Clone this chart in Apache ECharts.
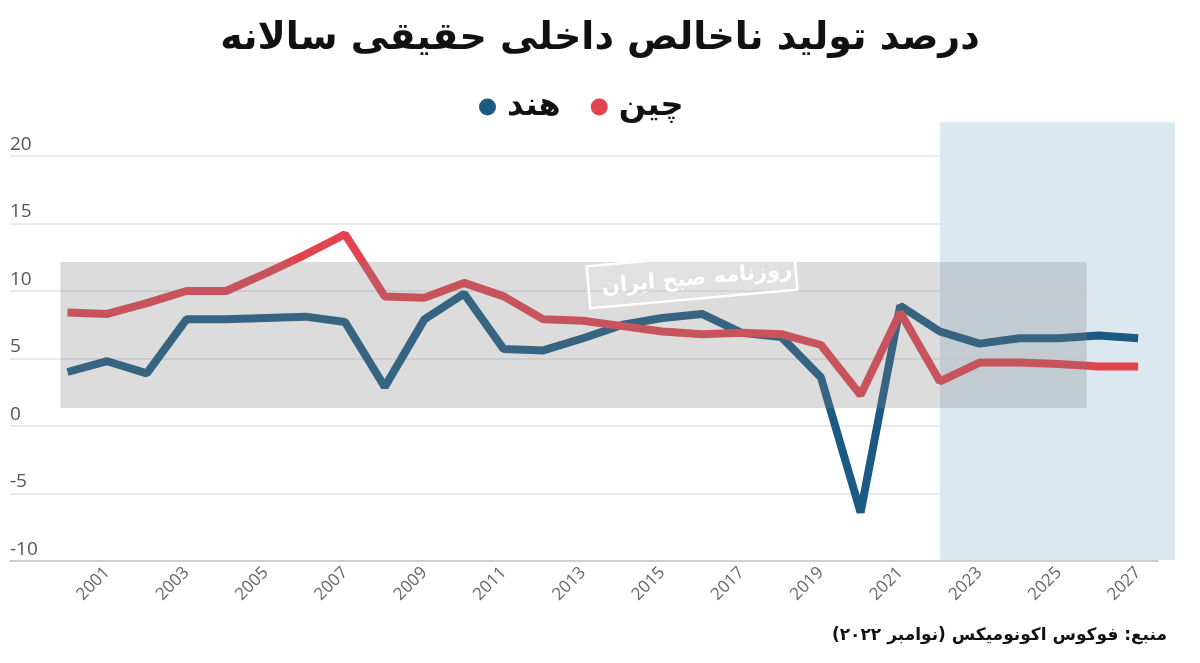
<!DOCTYPE html>
<html>
<head>
<meta charset="utf-8">
<script src="https://cdn.jsdelivr.net/npm/echarts@6/dist/echarts.min.js"></script>
<style>html,body{margin:0;padding:0;background:#fff}#c{width:1200px;height:663px}</style>
</head>
<body>
<div id="c"></div>
<script>
const years = [2000,2001,2002,2003,2004,2005,2006,2007,2008,2009,2010,2011,2012,2013,2014,2015,2016,2017,2018,2019,2020,2021,2022,2023,2024,2025,2026,2027];
const china = [8.4,8.3,9.1,10.0,10.0,11.3,12.7,14.2,9.6,9.5,10.6,9.6,7.9,7.8,7.4,7.0,6.8,6.9,6.8,6.0,2.3,8.4,3.3,4.7,4.7,4.6,4.4,4.4];
const india = [4.0,4.8,3.9,7.9,7.9,8.0,8.1,7.7,2.9,7.9,9.8,5.7,5.6,6.5,7.5,8.0,8.3,6.9,6.6,3.6,-6.4,8.9,7.0,6.1,6.5,6.5,6.7,6.5];
const xTickLabels = [2001,2003,2005,2007,2009,2011,2013,2015,2017,2019,2021,2023,2025,2027];
const forecastStart = 2022;
const titleText = 'درصد تولید ناخالص داخلی حقیقی سالانه';
const seriesNames = ['هند','چین'];
const sourceText = 'منبع: فوکوس اکونومیکس (نوامبر ۲۰۲۲)';
const watermarkText = 'روزنامه صبح ایران';

const FA = "'DejaVu Sans', 'Noto Sans', sans-serif";
const chart = echarts.init(document.getElementById('c'), null, {renderer:'canvas'});
const option = {
  animation: false,
  backgroundColor: '#ffffff',
  title: {
    text: titleText, left: 'center', top: 15,
    textStyle: {fontFamily: FA, fontWeight: 'bold', fontSize: 38, color: '#111'}
  },
  legend: {
    data: seriesNames, left: 474, top: 86, icon: 'circle',
    itemWidth: 17, itemHeight: 17, itemGap: 30,
    textStyle: {fontFamily: FA, fontWeight: 'bold', fontSize: 32, color: '#111', padding: [0,0,0,6]}
  },
  grid: {left: 10, right: 42, top: 156, bottom: 102, containLabel: false},
  xAxis: {
    type: 'value', min: 1998.55, max: 2027.5,
    axisLine: {show: true, onZero: false, lineStyle: {color: '#c9d1d6', width: 2}},
    axisTick: {show: false},
    splitLine: {show: false},
    axisLabel: {
      customValues: xTickLabels, rotate: 45, margin: 9,
      color: '#666', fontSize: 17, fontFamily: "'Open Sans', sans-serif",
      formatter: v => String(v)
    }
  },
  yAxis: {
    type: 'value', min: -10, max: 20, interval: 5,
    axisLine: {show: false}, axisTick: {show: false},
    splitLine: {lineStyle: {color: '#dfe4e8', width: 1.5}},
    axisLabel: {
      inside: true, margin: 0, verticalAlign: 'bottom', padding: [0,0,2,0],
      color: '#555', fontSize: 19, fontFamily: "'Open Sans', sans-serif",
      showMinLabel: true, showMaxLabel: true
    }
  },
  series: [
    {name: seriesNames[0], type: 'line', data: years.map((y,i)=>[y, india[i]]),
     symbol: 'none', lineStyle: {width: 8, color: '#1b5a82'}, itemStyle: {color: '#1b5a82'}, z: 3},
    {name: seriesNames[1], type: 'line', data: years.map((y,i)=>[y, china[i]]),
     symbol: 'none', lineStyle: {width: 8, color: '#e2434f'}, itemStyle: {color: '#e2434f'}, z: 4}
  ]
};
chart.setOption(option);

const fx = chart.convertToPixel({xAxisIndex:0}, forecastStart);
const yTop = chart.convertToPixel({yAxisIndex:0}, 22.5);
const yBot = chart.convertToPixel({yAxisIndex:0}, -10);
const gx1 = chart.convertToPixel({xAxisIndex:0}, 1999.82);
const gx2 = chart.convertToPixel({xAxisIndex:0}, 2025.7);
const gy1 = chart.convertToPixel({yAxisIndex:0}, 12.15);
const gy2 = chart.convertToPixel({yAxisIndex:0}, 1.33);
chart.setOption({
  graphic: [
    {type:'rect', z:-10, silent:true,
     shape:{x: fx, y: yTop, width: 1175 - fx, height: yBot - yTop - 1},
     style:{fill:'#dce8f0'}},
    {type:'rect', z:100, silent:true,
     shape:{x: gx1, y: gy1, width: gx2 - gx1, height: gy2 - gy1},
     style:{fill:'rgba(128,128,128,0.28)'}},
    {type:'rect', z:110, silent:true, x: 692, y: 278, rotation: 0.09,
     shape:{x:-104, y:-21, width:208, height:42},
     style:{fill:'rgba(255,255,255,0.15)', stroke:'#ffffff', lineWidth:2.5}},
    {type:'text', z:111, silent:true, x: 697, y: 279, rotation: 0.09,
     style:{text: watermarkText, x:0, y:0, align:'center', verticalAlign:'middle',
        fill:'#ffffff', font:"bold 21px 'DejaVu Sans', sans-serif"}},
    {type:'text', z:10, silent:true,
     style:{text: sourceText, x: 1167, y: 636, align:'right', verticalAlign:'middle',
       fill:'#111', font:"bold 17px 'DejaVu Sans', sans-serif"}}
  ]
});
</script>
</body>
</html>
